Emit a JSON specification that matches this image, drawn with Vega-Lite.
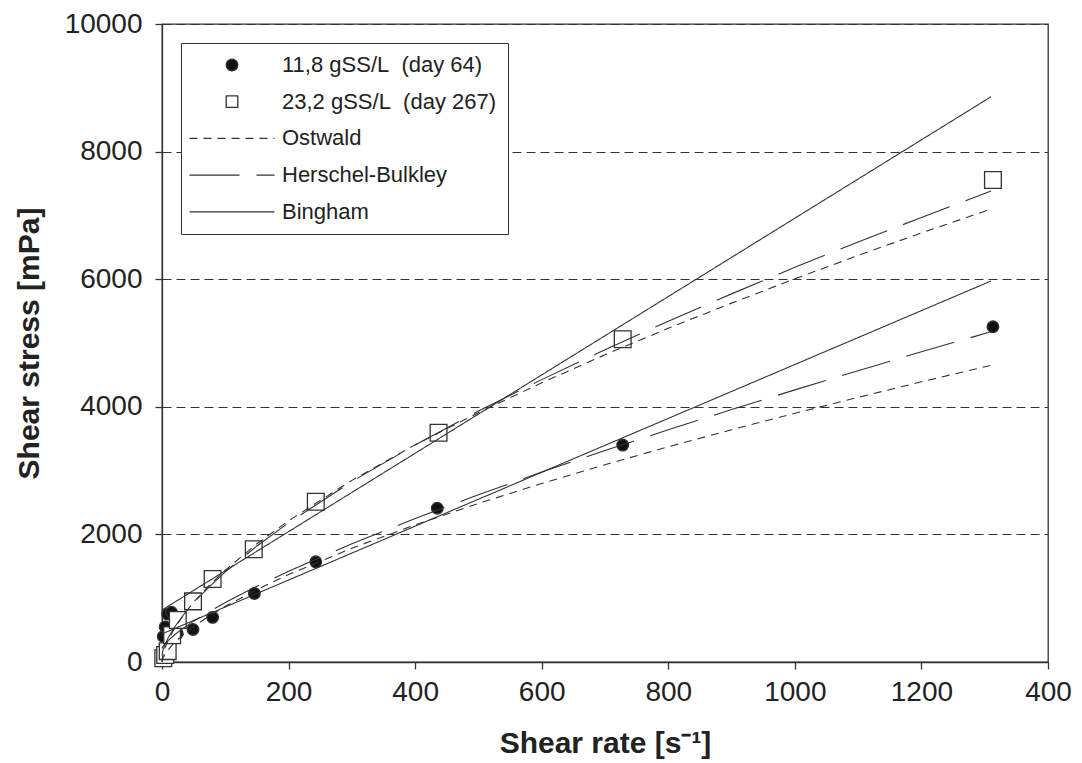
{
  "$schema": "https://vega.github.io/schema/vega-lite/v6.json",
  "width": 886,
  "height": 638,
  "autosize": {"type": "pad"},
  "padding": {"left": 14, "top": 10, "right": 5, "bottom": 5},
  "background": "white",
  "config": {
    "font": "Liberation Sans",
    "view": {"stroke": "#333", "strokeWidth": 1.3},
    "axis": {
      "labelFont": "Liberation Sans", "labelFontSize": 28, "labelColor": "#222",
      "titleFont": "Liberation Sans", "titleFontSize": 30, "titleFontWeight": "bold", "titleColor": "#222",
      "domainColor": "#333", "domainWidth": 1.3, "tickColor": "#333", "tickWidth": 1.3, "tickSize": 7,
      "labelFlush": false, "labelOverlap": false
    }
  },
  "datasets": {
    "points": [
      {"x": 2, "y": 400, "series": "11,8 gSS/L\u00a0 (day 64)"},
      {"x": 5, "y": 550, "series": "11,8 gSS/L\u00a0 (day 64)"},
      {"x": 9, "y": 750, "series": "11,8 gSS/L\u00a0 (day 64)"},
      {"x": 15, "y": 780, "series": "11,8 gSS/L\u00a0 (day 64)"},
      {"x": 24, "y": 445, "series": "11,8 gSS/L\u00a0 (day 64)"},
      {"x": 49, "y": 510, "series": "11,8 gSS/L\u00a0 (day 64)"},
      {"x": 80, "y": 700, "series": "11,8 gSS/L\u00a0 (day 64)"},
      {"x": 146, "y": 1075, "series": "11,8 gSS/L\u00a0 (day 64)"},
      {"x": 243, "y": 1570, "series": "11,8 gSS/L\u00a0 (day 64)"},
      {"x": 435, "y": 2410, "series": "11,8 gSS/L\u00a0 (day 64)"},
      {"x": 728, "y": 3400, "series": "11,8 gSS/L\u00a0 (day 64)"},
      {"x": 1313, "y": 5255, "series": "11,8 gSS/L\u00a0 (day 64)"},
      {"x": 2, "y": 60, "series": "23,2 gSS/L\u00a0 (day 267)"},
      {"x": 5, "y": 110, "series": "23,2 gSS/L\u00a0 (day 267)"},
      {"x": 9, "y": 170, "series": "23,2 gSS/L\u00a0 (day 267)"},
      {"x": 16, "y": 420, "series": "23,2 gSS/L\u00a0 (day 267)"},
      {"x": 25, "y": 658, "series": "23,2 gSS/L\u00a0 (day 267)"},
      {"x": 49, "y": 950, "series": "23,2 gSS/L\u00a0 (day 267)"},
      {"x": 80, "y": 1300, "series": "23,2 gSS/L\u00a0 (day 267)"},
      {"x": 145, "y": 1766, "series": "23,2 gSS/L\u00a0 (day 267)"},
      {"x": 243, "y": 2513, "series": "23,2 gSS/L\u00a0 (day 267)"},
      {"x": 437, "y": 3594, "series": "23,2 gSS/L\u00a0 (day 267)"},
      {"x": 728, "y": 5058, "series": "23,2 gSS/L\u00a0 (day 267)"},
      {"x": 1313, "y": 7555, "series": "23,2 gSS/L\u00a0 (day 267)"}
    ],
    "fits": [
      {"set": "A", "model": "Ostwald", "x": 0, "y": 0},
      {"set": "A", "model": "Ostwald", "x": 1, "y": 44},
      {"set": "A", "model": "Ostwald", "x": 2, "y": 69},
      {"set": "A", "model": "Ostwald", "x": 5, "y": 125},
      {"set": "A", "model": "Ostwald", "x": 10, "y": 195},
      {"set": "A", "model": "Ostwald", "x": 20, "y": 307},
      {"set": "A", "model": "Ostwald", "x": 35, "y": 441},
      {"set": "A", "model": "Ostwald", "x": 50, "y": 556},
      {"set": "A", "model": "Ostwald", "x": 75, "y": 724},
      {"set": "A", "model": "Ostwald", "x": 100, "y": 873},
      {"set": "A", "model": "Ostwald", "x": 150, "y": 1136},
      {"set": "A", "model": "Ostwald", "x": 200, "y": 1370},
      {"set": "A", "model": "Ostwald", "x": 300, "y": 1783},
      {"set": "A", "model": "Ostwald", "x": 400, "y": 2149},
      {"set": "A", "model": "Ostwald", "x": 500, "y": 2486},
      {"set": "A", "model": "Ostwald", "x": 600, "y": 2798},
      {"set": "A", "model": "Ostwald", "x": 700, "y": 3093},
      {"set": "A", "model": "Ostwald", "x": 800, "y": 3373},
      {"set": "A", "model": "Ostwald", "x": 900, "y": 3640},
      {"set": "A", "model": "Ostwald", "x": 1000, "y": 3898},
      {"set": "A", "model": "Ostwald", "x": 1100, "y": 4148},
      {"set": "A", "model": "Ostwald", "x": 1200, "y": 4392},
      {"set": "A", "model": "Ostwald", "x": 1310, "y": 4650},
      {"set": "A", "model": "Herschel-Bulkley", "x": 0, "y": 211},
      {"set": "A", "model": "Herschel-Bulkley", "x": 1, "y": 234},
      {"set": "A", "model": "Herschel-Bulkley", "x": 2, "y": 249},
      {"set": "A", "model": "Herschel-Bulkley", "x": 5, "y": 287},
      {"set": "A", "model": "Herschel-Bulkley", "x": 10, "y": 339},
      {"set": "A", "model": "Herschel-Bulkley", "x": 20, "y": 427},
      {"set": "A", "model": "Herschel-Bulkley", "x": 35, "y": 539},
      {"set": "A", "model": "Herschel-Bulkley", "x": 50, "y": 640},
      {"set": "A", "model": "Herschel-Bulkley", "x": 75, "y": 792},
      {"set": "A", "model": "Herschel-Bulkley", "x": 100, "y": 932},
      {"set": "A", "model": "Herschel-Bulkley", "x": 150, "y": 1188},
      {"set": "A", "model": "Herschel-Bulkley", "x": 200, "y": 1423},
      {"set": "A", "model": "Herschel-Bulkley", "x": 300, "y": 1854},
      {"set": "A", "model": "Herschel-Bulkley", "x": 400, "y": 2250},
      {"set": "A", "model": "Herschel-Bulkley", "x": 500, "y": 2621},
      {"set": "A", "model": "Herschel-Bulkley", "x": 600, "y": 2977},
      {"set": "A", "model": "Herschel-Bulkley", "x": 700, "y": 3314},
      {"set": "A", "model": "Herschel-Bulkley", "x": 800, "y": 3640},
      {"set": "A", "model": "Herschel-Bulkley", "x": 900, "y": 3957},
      {"set": "A", "model": "Herschel-Bulkley", "x": 1000, "y": 4265},
      {"set": "A", "model": "Herschel-Bulkley", "x": 1100, "y": 4566},
      {"set": "A", "model": "Herschel-Bulkley", "x": 1200, "y": 4862},
      {"set": "A", "model": "Herschel-Bulkley", "x": 1310, "y": 5177},
      {"set": "A", "model": "Bingham", "x": 0, "y": 440},
      {"set": "A", "model": "Bingham", "x": 1310, "y": 5972},
      {"set": "B", "model": "Ostwald", "x": 0, "y": 0},
      {"set": "B", "model": "Ostwald", "x": 1, "y": 83},
      {"set": "B", "model": "Ostwald", "x": 2, "y": 127},
      {"set": "B", "model": "Ostwald", "x": 5, "y": 225},
      {"set": "B", "model": "Ostwald", "x": 10, "y": 346},
      {"set": "B", "model": "Ostwald", "x": 20, "y": 531},
      {"set": "B", "model": "Ostwald", "x": 35, "y": 751},
      {"set": "B", "model": "Ostwald", "x": 50, "y": 938},
      {"set": "B", "model": "Ostwald", "x": 75, "y": 1205},
      {"set": "B", "model": "Ostwald", "x": 100, "y": 1441},
      {"set": "B", "model": "Ostwald", "x": 150, "y": 1853},
      {"set": "B", "model": "Ostwald", "x": 200, "y": 2214},
      {"set": "B", "model": "Ostwald", "x": 300, "y": 2847},
      {"set": "B", "model": "Ostwald", "x": 400, "y": 3404},
      {"set": "B", "model": "Ostwald", "x": 500, "y": 3908},
      {"set": "B", "model": "Ostwald", "x": 600, "y": 4376},
      {"set": "B", "model": "Ostwald", "x": 700, "y": 4816},
      {"set": "B", "model": "Ostwald", "x": 800, "y": 5231},
      {"set": "B", "model": "Ostwald", "x": 900, "y": 5625},
      {"set": "B", "model": "Ostwald", "x": 1000, "y": 6006},
      {"set": "B", "model": "Ostwald", "x": 1100, "y": 6372},
      {"set": "B", "model": "Ostwald", "x": 1200, "y": 6726},
      {"set": "B", "model": "Ostwald", "x": 1310, "y": 7099},
      {"set": "B", "model": "Herschel-Bulkley", "x": 0, "y": 100},
      {"set": "B", "model": "Herschel-Bulkley", "x": 1, "y": 161},
      {"set": "B", "model": "Herschel-Bulkley", "x": 2, "y": 197},
      {"set": "B", "model": "Herschel-Bulkley", "x": 5, "y": 278},
      {"set": "B", "model": "Herschel-Bulkley", "x": 10, "y": 383},
      {"set": "B", "model": "Herschel-Bulkley", "x": 20, "y": 549},
      {"set": "B", "model": "Herschel-Bulkley", "x": 35, "y": 752},
      {"set": "B", "model": "Herschel-Bulkley", "x": 50, "y": 927},
      {"set": "B", "model": "Herschel-Bulkley", "x": 75, "y": 1183},
      {"set": "B", "model": "Herschel-Bulkley", "x": 100, "y": 1412},
      {"set": "B", "model": "Herschel-Bulkley", "x": 150, "y": 1819},
      {"set": "B", "model": "Herschel-Bulkley", "x": 200, "y": 2181},
      {"set": "B", "model": "Herschel-Bulkley", "x": 300, "y": 2829},
      {"set": "B", "model": "Herschel-Bulkley", "x": 400, "y": 3402},
      {"set": "B", "model": "Herschel-Bulkley", "x": 500, "y": 3933},
      {"set": "B", "model": "Herschel-Bulkley", "x": 600, "y": 4426},
      {"set": "B", "model": "Herschel-Bulkley", "x": 700, "y": 4896},
      {"set": "B", "model": "Herschel-Bulkley", "x": 800, "y": 5342},
      {"set": "B", "model": "Herschel-Bulkley", "x": 900, "y": 5770},
      {"set": "B", "model": "Herschel-Bulkley", "x": 1000, "y": 6186},
      {"set": "B", "model": "Herschel-Bulkley", "x": 1100, "y": 6583},
      {"set": "B", "model": "Herschel-Bulkley", "x": 1200, "y": 6968},
      {"set": "B", "model": "Herschel-Bulkley", "x": 1310, "y": 7383},
      {"set": "B", "model": "Bingham", "x": 0, "y": 815},
      {"set": "B", "model": "Bingham", "x": 1310, "y": 8860}
    ]
  },
  "layer": [
    {
      "data": {"name": "points"},
      "mark": {"type": "point", "filled": true, "opacity": 1, "stroke": "#333", "strokeWidth": 1.3},
      "encoding": {
        "x": {
          "field": "x", "type": "quantitative",
          "scale": {"domain": [0, 1400], "nice": false, "zero": false},
          "axis": {
            "title": "Shear rate [s\u207b\u00b9]", "values": [0, 200, 400, 600, 800, 1000, 1200, 1400],
            "format": "d", "labelExpr": "datum.value == 1400 ? '400' : datum.label",
            "grid": false, "labelPadding": 9, "titlePadding": 22
          }
        },
        "y": {
          "field": "y", "type": "quantitative",
          "scale": {"domain": [0, 10000], "nice": false},
          "axis": {
            "title": "Shear stress [mPa]", "values": [0, 2000, 4000, 6000, 8000, 10000],
            "format": "d", "grid": true, "gridDash": [9, 5], "gridColor": "#333", "gridWidth": 1.2,
            "labelPadding": 13, "titlePadding": 20
          }
        },
        "shape": {
          "field": "series", "type": "nominal",
          "scale": {
            "domain": ["11,8 gSS/L\u00a0 (day 64)", "23,2 gSS/L\u00a0 (day 267)", "Ostwald", "Herschel-Bulkley", "Bingham"],
            "range": ["circle", "square", "M-7.37,0H7.37", "M-7.37,0H7.37", "M-7.37,0H7.37"]
          },
          "legend": {
            "title": null, "orient": "none", "legendX": 19, "legendY": 19,
            "fillColor": "white", "strokeColor": "#333", "padding": 11,
            "labelFont": "Liberation Sans", "labelFontSize": 22, "labelColor": "#222", "labelLimit": 400,
            "symbolSize": 133, "symbolStrokeColor": "#333", "symbolStrokeWidth": 1.3,
            "symbolOffset": 29, "labelOffset": 39, "rowPadding": 14.7,
            "symbolFillColor": "white",
            "symbolDash": {"expr": "datum.value == 'Ostwald' ? [8, 6] : datum.value == 'Herschel-Bulkley' ? [50, 17] : [1, 0]"}
          }
        },
        "fill": {
          "field": "series", "type": "nominal",
          "scale": {
            "domain": ["11,8 gSS/L\u00a0 (day 64)", "23,2 gSS/L\u00a0 (day 267)", "Ostwald", "Herschel-Bulkley", "Bingham"],
            "range": ["#111111", "white", "white", "white", "white"]
          },
          "legend": {
            "title": null, "orient": "none", "legendX": 19, "legendY": 19,
            "fillColor": "white", "strokeColor": "#333", "padding": 11,
            "labelFont": "Liberation Sans", "labelFontSize": 22, "labelColor": "#222", "labelLimit": 400,
            "symbolSize": 133, "symbolStrokeColor": "#333", "symbolStrokeWidth": 1.3,
            "symbolOffset": 29, "labelOffset": 39, "rowPadding": 14.7,
            "symbolFillColor": "white",
            "symbolDash": {"expr": "datum.value == 'Ostwald' ? [8, 6] : datum.value == 'Herschel-Bulkley' ? [50, 17] : [1, 0]"}
          }
        },
        "size": {
          "field": "series", "type": "nominal",
          "scale": {
            "domain": ["11,8 gSS/L\u00a0 (day 64)", "23,2 gSS/L\u00a0 (day 267)"],
            "range": [135, 280]
          },
          "legend": null
        }
      }
    },
    {
      "data": {"name": "fits"},
      "mark": {"type": "line", "color": "#333", "strokeWidth": 1.1},
      "encoding": {
        "x": {"field": "x", "type": "quantitative"},
        "y": {"field": "y", "type": "quantitative"},
        "detail": {"field": "set", "type": "nominal"},
        "strokeDash": {
          "field": "model", "type": "nominal",
          "scale": {"domain": ["Ostwald", "Herschel-Bulkley", "Bingham"], "range": [[8, 6], [50, 17], [1, 0]]},
          "legend": null
        }
      }
    }
  ]
}
